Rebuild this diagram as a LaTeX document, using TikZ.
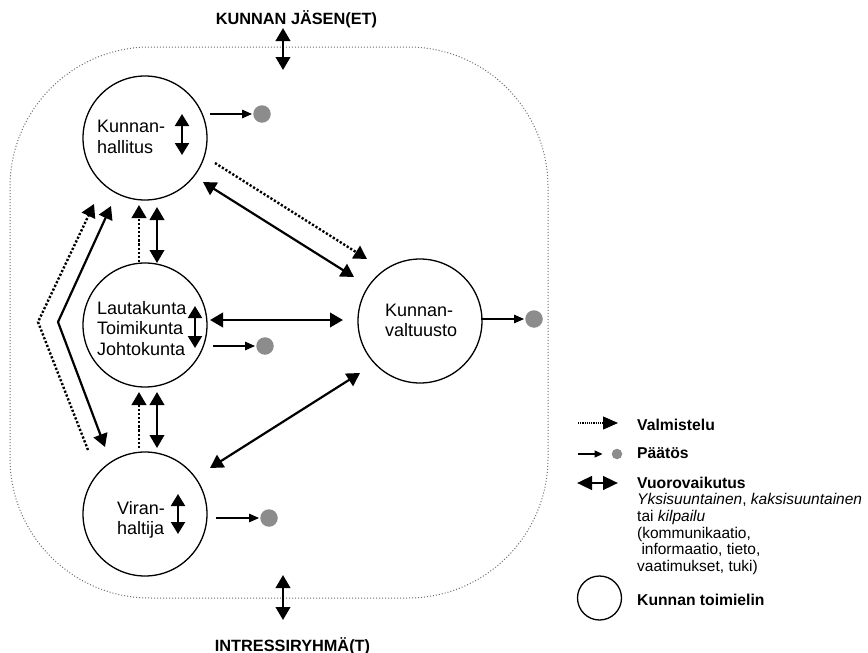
\documentclass[tikz,border=0pt]{standalone}
\usepackage{fontspec}
\setmainfont{Liberation Sans}
\usetikzlibrary{arrows.meta}
\definecolor{dotgray}{HTML}{8C8C8C}
\definecolor{bordgray}{HTML}{6E6E6E}
\tikzset{
  organ/.style={circle, draw, line width=1.3pt, minimum size=124pt, inner sep=0pt},
  bigtip/.tip={Triangle[length=13pt,width=14.5pt]},
  smalltip/.tip={Triangle[length=12pt,width=14pt]},
  bi/.style={line width=2.2pt, {bigtip}-{bigtip}},
  innerbi/.style={line width=2.2pt, {smalltip}-{smalltip}},
  prep/.style={line width=2.4pt, dash pattern=on 2.2pt off 1.9pt, -{bigtip}},
  dec/.style={line width=1.3pt, -{Triangle[length=10pt,width=8.5pt]}},
  decdot/.style={circle, fill=dotgray, minimum size=17.5pt, inner sep=0pt},
  ctext/.style={align=left, inner sep=0pt, font=\fontsize{18}{20.5}\selectfont},
  head/.style={inner sep=0pt, font=\fontsize{16.3}{19}\selectfont\bfseries},
  legb/.style={inner sep=0pt, font=\fontsize{15.7}{18}\selectfont\bfseries},
  legt/.style={inner sep=0pt, align=left, font=\fontsize{15.5}{16.75}\selectfont},
}
\begin{document}
\begin{tikzpicture}[x=1pt,y=-1pt]
\useasboundingbox (0,0) rectangle (868,653);
\fill[white] (0,0) rectangle (868,653);

% boundary
\draw[bordgray, line width=1pt, dotted, rounded corners=140pt] (10,47) rectangle (548,598);

% headings
\node[head, anchor=base] (jas) at (296.5,24) {KUNNAN JÄSEN(ET)};
\node[head, anchor=base] (int) at (292.5,651) {INTRESSIRYHMÄ(T)};
\coordinate (jasA) at (283,28); \coordinate (jasB) at (283,70);
\coordinate (intA) at (283,575); \coordinate (intB) at (283,620);
\draw[bi] (jasA) -- (jasB);
\draw[bi] (intA) -- (intB);

% organs
\node[organ] (kh) at (145,138) {};
\node[organ] (ltk) at (145,325) {};
\node[organ] (vh) at (145,514) {};
\node[organ] (kv) at (420,321) {};

\node[ctext, anchor=west] (khT) at (97,137) {Kunnan-\\hallitus};
\node[ctext, anchor=west] (ltkT) at (97,328.5) {Lautakunta\\Toimikunta\\Johtokunta};
\node[ctext, anchor=west] (vhT) at (117,520) {Viran-\\haltija};
\node[ctext, anchor=west] (kvT) at (385,320.5) {Kunnan-\\valtuusto};

% inner interaction arrows
\coordinate (khI1) at (182,114); \coordinate (khI2) at (182,155);
\coordinate (ltkI1) at (195,306); \coordinate (ltkI2) at (195,348);
\coordinate (vhI1) at (178,494); \coordinate (vhI2) at (178,534);
\draw[innerbi] (khI1) -- (khI2);
\draw[innerbi] (ltkI1) -- (ltkI2);
\draw[innerbi] (vhI1) -- (vhI2);

% decisions
\node[decdot] (khD) at (262,114) {};
\node[decdot] (ltkD) at (265,346) {};
\node[decdot] (vhD) at (269,518) {};
\node[decdot] (kvD) at (534,319) {};
\coordinate (khDs) at (210,114);
\coordinate (ltkDs) at (213,346);
\coordinate (vhDs) at (216,518);
\coordinate (kvDs) at (481,319);
\draw[dec] (khDs) -- ([xshift=-1pt]khD.west);
\draw[dec] (ltkDs) -- ([xshift=-1pt]ltkD.west);
\draw[dec] (vhDs) -- ([xshift=-1pt]vhD.west);
\draw[dec] (kvDs) -- ([xshift=-1pt]kvD.west);

% vertical connections
\coordinate (a1) at (139,262); \coordinate (a2) at (139,205);
\coordinate (b1) at (157,207); \coordinate (b2) at (157,263);
\coordinate (c1) at (139,448); \coordinate (c2) at (139,392);
\coordinate (d1) at (157,392); \coordinate (d2) at (157,448);
\draw[prep] (a1) -- (a2);
\draw[bi] (b1) -- (b2);
\draw[prep] (c1) -- (c2);
\draw[bi] (d1) -- (d2);

% left bypass
\coordinate (e1) at (88,450); \coordinate (e2) at (38,322); \coordinate (e3) at (94,204);
\coordinate (f1) at (111,206); \coordinate (f2) at (58,322); \coordinate (f3) at (105,447);
\draw[prep] (e1) -- (e2) -- (e3);
\draw[bi] (f1) -- (f2) -- (f3);

% to council
\coordinate (g1) at (203,182); \coordinate (g2) at (354,277);
\coordinate (h1) at (215,163); \coordinate (h2) at (367,259);
\coordinate (i1) at (210,320); \coordinate (i2) at (343,320);
\coordinate (j1) at (210,468); \coordinate (j2) at (360,373);
\draw[bi] (g1) -- (g2);
\draw[prep] (h1) -- (h2);
\draw[bi] (i1) -- (i2);
\draw[bi] (j1) -- (j2);

% legend
\coordinate (L1a) at (578,423); \coordinate (L1b) at (618,423);
\draw[line width=1.2pt, dash pattern=on 1.2pt off 1pt, -{Triangle[length=15pt,width=13pt]}] (L1a) -- (L1b);
\node[legb, anchor=base west] (L1) at (637,430) {Valmistelu};

\node[circle, fill=dotgray, minimum size=10.5pt, inner sep=0pt] (L2d) at (617,454) {};
\coordinate (L2a) at (578,454);
\draw[line width=1.2pt, -{Triangle[length=8pt,width=7pt]}] (L2a) -- ([xshift=-9pt]L2d.west);
\node[legb, anchor=base west] (L2) at (637,458.5) {Päätös};

\coordinate (L3a) at (577,483); \coordinate (L3b) at (618,483);
\draw[line width=2.8pt, {Triangle[length=15pt,width=13.5pt]}-{Triangle[length=15pt,width=13.5pt]}] (L3a) -- (L3b);
\node[legb, anchor=base west] (L3) at (637,488) {Vuorovaikutus};
\node[legt, anchor=west] (L3t) at (637,534.2) {\textit{Yksisuuntainen}, \textit{kaksisuuntainen}\\tai \textit{kilpailu}\\(kommunikaatio,\\\ informaatio, tieto,\\vaatimukset, tuki)};

\node[circle, draw, line width=1.3pt, minimum size=44pt, inner sep=0pt] (L4c) at (599.5,598) {};
\node[legb, anchor=base west] (L4) at (637,605) {Kunnan toimielin};
\end{tikzpicture}
\end{document}
